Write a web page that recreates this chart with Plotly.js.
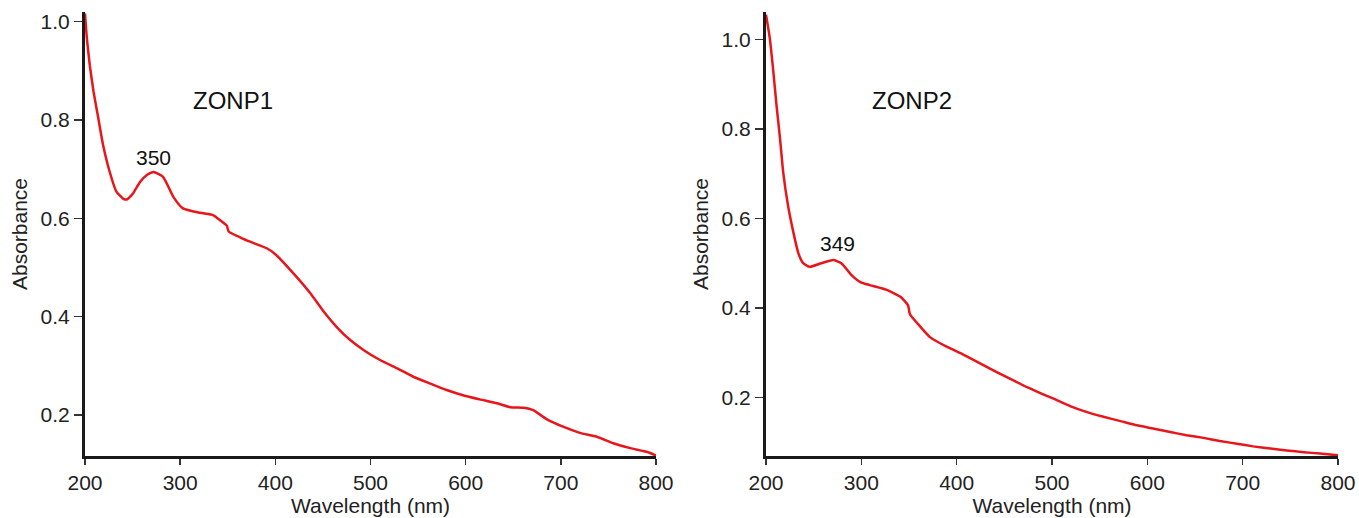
<!DOCTYPE html>
<html>
<head>
<meta charset="utf-8">
<script src="https://cdn.plot.ly/plotly-3.0.1.min.js"></script>
<style>html,body{margin:0;padding:0;background:#fff;}#chart{width:1359px;height:518px;}</style>
</head>
<body>
<div id="chart"></div>
<script>
// ZONP1 spectrum
const wl1 = [200,202,205,209,214,219,226,233,240,244,247,251,258,265,272,282,293,303,321,335,342,349,351,370,391,400,419,437,451,465,479,493,510,528,545,563,580,598,615,633,647,661,671,685,703,720,738,755,773,791,800];
const abs1 = [1.016,0.965,0.911,0.857,0.803,0.749,0.694,0.654,0.64,0.638,0.643,0.652,0.674,0.688,0.694,0.684,0.643,0.62,0.611,0.606,0.596,0.585,0.573,0.555,0.539,0.527,0.488,0.447,0.41,0.378,0.352,0.332,0.312,0.295,0.278,0.264,0.251,0.24,0.232,0.224,0.216,0.215,0.21,0.192,0.176,0.164,0.156,0.143,0.133,0.125,0.118];
// ZONP2 spectrum
const wl2 = [200,204,207.7,211,214.7,218,223,228.6,234,239,246,258,270.6,279,290,299,309,326,341,349,351,362,372,390,407,425,442,459,475,492,501,519,536,554,571,589,606,624,641,659,676,694,711,729,746,764,781,800];
const abs2 = [1.055,1.002,0.928,0.853,0.779,0.704,0.63,0.57,0.522,0.5,0.492,0.5,0.507,0.5,0.473,0.458,0.451,0.441,0.425,0.406,0.386,0.358,0.335,0.313,0.296,0.276,0.257,0.239,0.222,0.206,0.198,0.181,0.168,0.157,0.148,0.138,0.131,0.123,0.116,0.11,0.103,0.097,0.091,0.086,0.082,0.078,0.075,0.071];
const yTicks = [0.2,0.4,0.6,0.8,1.0];
const yTickText = ["0.2","0.4","0.6","0.8","1.0"];
const xTicks = [200,300,400,500,600,700,800];
const sampleNames = ["ZONP1","ZONP2"];
const peakLabels = ["350","349"];

const W = 1359, H = 518;
const FONT = "Liberation Sans, Arial, sans-serif";
const lineStyle = {color: "rgb(232,22,26)", width: 2.5, shape: "spline", smoothing: 0.5};

const traces = [
  {x: wl1, y: abs1, type: "scatter", mode: "lines", line: lineStyle, xaxis: "x", yaxis: "y", hoverinfo: "skip"},
  {x: wl2, y: abs2, type: "scatter", mode: "lines", line: lineStyle, xaxis: "x2", yaxis: "y2", hoverinfo: "skip"}
];

function xax(domain, anchor) {
  return {
    domain: domain, anchor: anchor, range: [200, 800], tickvals: xTicks,
    showgrid: false, zeroline: false, showline: true, linecolor: "#1a1a1a", linewidth: 3,
    ticks: "outside", ticklen: 6, tickwidth: 1.5, tickcolor: "#333",
    tickfont: {family: FONT, size: 21, color: "#222"},
    title: {text: "Wavelength (nm)", font: {family: FONT, size: 21, color: "#222"}, standoff: 6},
    automargin: false
  };
}
function yax(domain, anchor, range) {
  return {
    domain: domain, anchor: anchor, range: range, tickvals: yTicks, ticktext: yTickText,
    showgrid: false, zeroline: false, showline: true, linecolor: "#1a1a1a", linewidth: 3,
    ticks: "outside", ticklen: 8, tickwidth: 1.5, tickcolor: "#333",
    tickfont: {family: FONT, size: 21, color: "#222"},
    title: {text: "Absorbance", font: {family: FONT, size: 21, color: "#222"}, standoff: 8},
    automargin: false
  };
}

const yDom = [1 - 456/H, 1 - 12/H];
const layout = {
  width: W, height: H,
  margin: {l: 0, r: 0, t: 0, b: 0},
  paper_bgcolor: "#fff", plot_bgcolor: "#fff",
  showlegend: false,
  font: {family: FONT, color: "#222"},
  xaxis: xax([85/W, 656/W], "y"),
  yaxis: yax(yDom, "x", [0.117, 1.019]),
  xaxis2: xax([766/W, 1338/W], "y2"),
  yaxis2: yax(yDom, "x2", [0.0695, 1.061]),
  annotations: [
    {xref: "x", yref: "y", x: 355, y: 0.84, text: sampleNames[0], showarrow: false, font: {family: FONT, size: 24, color: "#111"}},
    {xref: "x", yref: "y", x: 272, y: 0.724, text: peakLabels[0], showarrow: false, font: {family: FONT, size: 21, color: "#111"}},
    {xref: "x2", yref: "y2", x: 353, y: 0.864, text: sampleNames[1], showarrow: false, font: {family: FONT, size: 24, color: "#111"}},
    {xref: "x2", yref: "y2", x: 275, y: 0.545, text: peakLabels[1], showarrow: false, font: {family: FONT, size: 21, color: "#111"}}
  ]
};

Plotly.newPlot("chart", traces, layout, {staticPlot: true, displayModeBar: false});
</script>
</body>
</html>
